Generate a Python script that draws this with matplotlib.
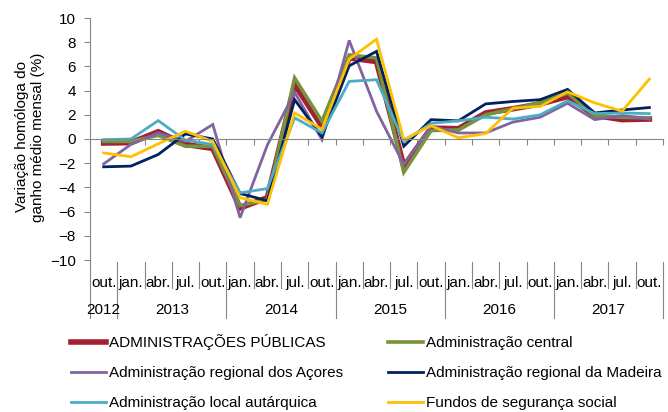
import matplotlib
matplotlib.use("Agg")
from matplotlib import pyplot as plt

plt.rcParams['font.family'] = ['Liberation Sans', 'DejaVu Sans']

months = ['out.', 'jan.', 'abr.', 'jul.', 'out.', 'jan.', 'abr.', 'jul.', 'out.', 'jan.', 'abr.',
          'jul.', 'out.', 'jan.', 'abr.', 'jul.', 'out.', 'jan.', 'abr.', 'jul.', 'out.']
years = ['2012', '2013', '2014', '2015', '2016', '2017']
year_spans = [(0, 0), (1, 4), (5, 8), (9, 12), (13, 16), (17, 20)]

adm_publicas = [-0.33, -0.3, 0.6, -0.45, -0.78, -5.7, -4.85, 4.5, 1.05, 6.7, 6.4,
                -2.25, 0.9, 0.85, 2.15, 2.5, 2.9, 3.5, 1.95, 1.6, 1.65]
adm_central = [-0.2, -0.2, 0.3, -0.6, -0.6, -5.5, -5.0, 5.04, 1.47, 6.95, 6.7,
               -2.75, 0.7, 0.75, 2.0, 2.5, 3.0, 3.8, 1.9, 1.8, 1.75]
adm_acores = [-2.06, -0.45, 0.5, -0.2, 1.2, -6.5, -0.5, 3.85, -0.05, 8.15, 2.3,
              -2.1, 1.05, 0.5, 0.5, 1.4, 1.8, 2.95, 1.6, 1.95, 1.65]
adm_madeira = [-2.3, -2.24, -1.28, 0.42, 0.0, -4.5, -5.1, 3.25, 0.18, 6.05, 7.24,
               -0.6, 1.6, 1.5, 2.9, 3.1, 3.25, 4.1, 2.15, 2.4, 2.6]
adm_local = [-0.05, 0.0, 1.52, -0.1, -0.45, -4.45, -4.1, 1.75, 0.5, 4.76, 4.9,
             -0.2, 1.3, 1.5, 1.8, 1.65, 2.0, 3.15, 2.1, 2.15, 2.1]
fundos_ss = [-1.15, -1.47, -0.4, 0.64, -0.2, -4.85, -5.4, 2.15, 0.8, 6.6, 8.25,
             -0.05, 1.1, 0.1, 0.45, 2.55, 2.7, 3.9, 2.98, 2.3, 4.95]

series = [
    ('ADMINISTRAÇÕES PÚBLICAS', adm_publicas, '#A31F34', 4.0),
    ('Administração central', adm_central, '#77933C', 2.6),
    ('Administração regional dos Açores', adm_acores, '#8064A2', 2.0),
    ('Administração regional da Madeira', adm_madeira, '#002060', 2.0),
    ('Administração local autárquica', adm_local, '#4BACC6', 2.0),
    ('Fundos de segurança social', fundos_ss, '#FFC000', 2.0),
]

W, H = 668, 412
fig = plt.figure(figsize=(W / 100, H / 100), dpi=100)
ax = fig.add_axes([90 / W, (H - 260) / H, (663 - 90) / W, (260 - 18) / H])

x = list(range(len(months)))
lines = {}
for name, vals, col, lw in series:
    lines[name], = ax.plot(x, vals, color=col, linewidth=lw, label=name, solid_joinstyle='miter')

gray = '#868686'
fs = 11
ax.set_xlim(-0.5, len(months) - 0.5)
ax.set_ylim(-10, 10)
ax.set_yticks(range(-10, 11, 2))
ax.tick_params(axis='y', labelsize=fs, length=4, color=gray, pad=6)
for s in ['top', 'right']:
    ax.spines[s].set_visible(False)
ax.spines['left'].set_color(gray)
ax.spines['bottom'].set_position(('data', 0))
ax.spines['bottom'].set_color(gray)
ax.set_xticks([i - 0.5 for i in range(len(months) + 1)])
ax.set_xticklabels([])
ax.tick_params(axis='x', length=4, color=gray, direction='out')

# category labels and separators below the plot
trans = ax.get_xaxis_transform()
ax.plot([-0.5, -0.5], [0, -0.24], transform=trans, color=gray, lw=0.8, clip_on=False)
for i, m in enumerate(months):
    ax.text(i, -0.095, m, transform=trans, ha='center', va='center', fontsize=fs)
    ax.plot([i + 0.5, i + 0.5], [-0.008, -0.116], transform=trans, color=gray, lw=0.8, clip_on=False)
for yr, (a, b) in zip(years, year_spans):
    ax.text((a + b) / 2, -0.207, yr, transform=trans, ha='center', va='center', fontsize=fs)
    ax.plot([b + 0.5, b + 0.5], [-0.116, -0.24], transform=trans, color=gray, lw=0.8, clip_on=False)

fig.text(30 / W, 1 - 137 / H, 'Variação homóloga do\nganho médio mensal (%)', rotation=90,
         ha='center', va='center', fontsize=fs, linespacing=1.1)

order = [0, 2, 4, 1, 3, 5]
handles = [lines[series[i][0]] for i in order]
labels = [series[i][0] for i in order]
fig.legend(handles, labels, loc='upper left', bbox_to_anchor=(71 / W, 1 - 334 / H), ncol=2,
           frameon=False, fontsize=fs, handlelength=2.3, handletextpad=0.2,
           columnspacing=2.9, labelspacing=1.05, borderpad=0, borderaxespad=0)

fig.savefig('out.png', dpi=100)
